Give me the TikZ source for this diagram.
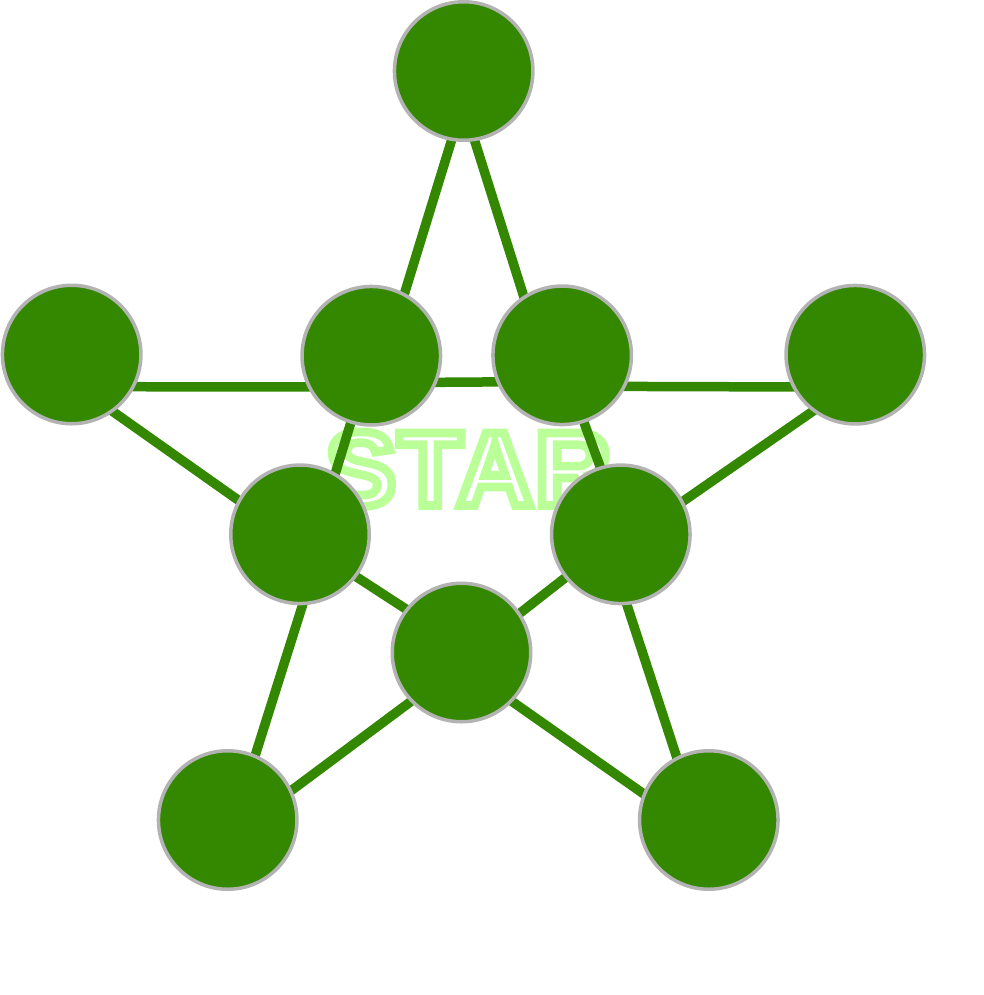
\documentclass[tikz,border=0pt]{standalone}
\usepackage{fontspec}
\newfontfamily\starfont{Liberation Sans}
\usetikzlibrary{backgrounds}

\definecolor{leaf}{HTML}{338800}
\definecolor{rim}{HTML}{B3B3B3}
\definecolor{pale}{HTML}{BBFF99}

% stroked glyphs: white fill, pale green outline
\newcommand\outlinetext[1]{\special{pdf:literal direct 0.733 1 0.6 RG 2 Tr 2.45 w}#1\special{pdf:literal direct 0 Tr}}

\begin{document}
\begin{tikzpicture}[
  dot/.style={circle, draw=rim, line width=0.035cm, fill=leaf, inner sep=0pt, minimum size=1.385cm},
  edge/.style={draw=leaf, line width=0.095cm, shorten <=-2pt, shorten >=-2pt},
  word/.style={anchor=base west, inner sep=0pt, text=white, font=\starfont\bfseries\fontsize{30pt}{36pt}\selectfont}
]
\useasboundingbox (0,0) rectangle (9.84,-9.95);
% outer points
\node[dot] (top) at (4.637,-0.71) {};
\node[dot] (L) at (0.717,-3.545) {};
\node[dot] (R) at (8.553,-3.547) {};
\node[dot] (BL) at (2.277,-8.20) {};
\node[dot] (BR) at (7.088,-8.20) {};
% inner points
\node[dot] (UL) at (3.713,-3.557) {};
\node[dot] (UR) at (5.622,-3.553) {};
\node[dot] (IL) at (3.00,-5.343) {};
\node[dot] (IR) at (6.208,-5.343) {};
\node[dot] (B) at (4.615,-6.525) {};
\begin{scope}[on background layer]
% title behind the star
\node[word] (title) at (3.25,-5.055) {\addfontfeature{LetterSpace=2}\outlinetext{STAR}};
% star edges
\draw[edge] (top.-100) -- (UL.62); \draw[edge] (top.-81) -- (UR.123);
\draw[edge] (L.-27) -- (UL.-154); \draw[edge] (UL.-22) -- (UR.-158); \draw[edge] (UR.-26) -- (R.-153);
\draw[edge] (L.-54) -- (IL.151); \draw[edge] (R.-127) -- (IR.28);
\draw[edge] (UL.-107) -- (IL.60); \draw[edge] (UR.-72) -- (IR.107);
\draw[edge] (IL.-37) -- (B.142); \draw[edge] (IR.-142) -- (B.34);
\draw[edge] (IL.-88) -- (BL.67); \draw[edge] (IR.-85) -- (BR.117);
\draw[edge] (B.-136) -- (BL.25); \draw[edge] (B.-44) -- (BR.158);
\end{scope}
\end{tikzpicture}
\end{document}
